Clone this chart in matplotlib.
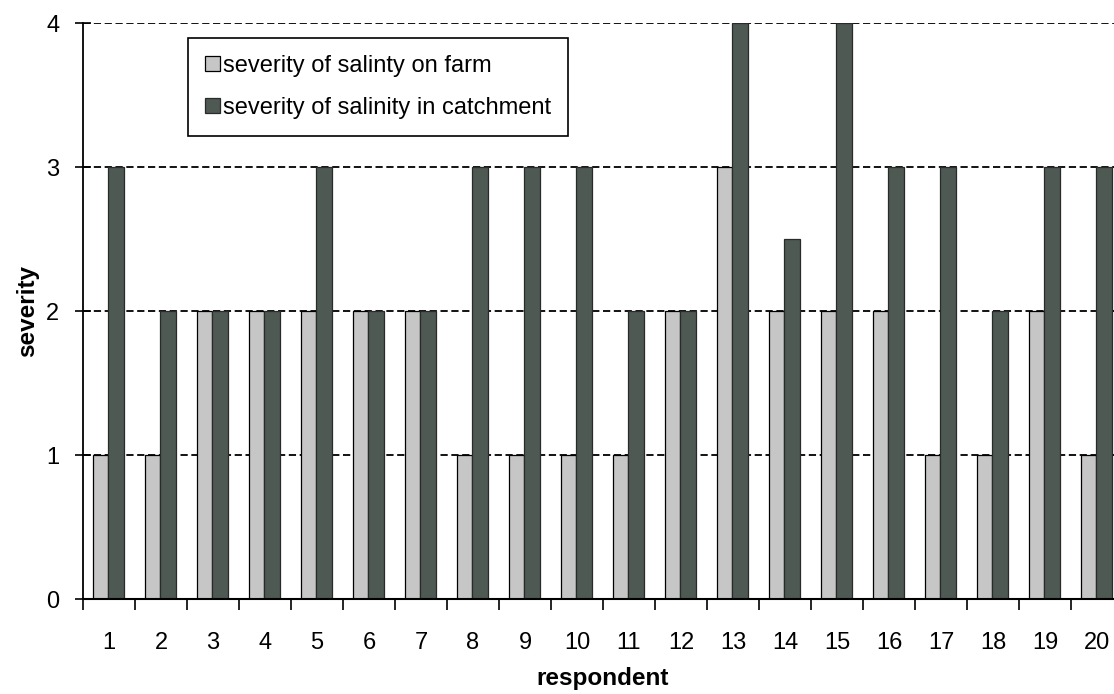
import matplotlib
matplotlib.use("Agg")
import matplotlib.pyplot as plt
import numpy as np

plt.rcParams['font.family'] = ['Liberation Sans', 'DejaVu Sans']

respondents = [str(i) for i in range(1, 21)]
farm = [1, 1, 2, 2, 2, 2, 2, 1, 1, 1, 1, 2, 3, 2, 2, 2, 1, 1, 2, 1]
catchment = [3, 2, 2, 2, 3, 2, 2, 3, 3, 3, 2, 2, 4, 2.5, 4, 3, 3, 2, 3, 3]
series_labels = ["severity of salinty on farm", "severity of salinity in catchment"]
y_ticks = [0, 1, 2, 3, 4]

farm_color = "#c6c6c6"
catch_color = "#4e5954"

fig = plt.figure(figsize=(11.14, 6.94), dpi=100)
ax = fig.add_axes([83 / 1114, 95 / 694, 1040 / 1114, 576 / 694])

x = np.arange(1, len(respondents) + 1)
w = 0.30
ax.bar(x - 0.165, farm, width=w, color=farm_color, edgecolor="black",
       linewidth=0.9, label=series_labels[0], zorder=3)
ax.bar(x + 0.135, catchment, width=w, color=catch_color, edgecolor="#2a2a2a",
       linewidth=0.9, label=series_labels[1], zorder=3)

ax.set_xlim(0.5, len(respondents) + 0.5)
ax.set_ylim(0, 4)

# horizontal dashed gridlines
for yv in y_ticks[1:]:
    ax.axhline(yv, color="black", linestyle=(0, (4, 2)), linewidth=1.3, zorder=1)

# boundaries as tick marks, labels at category centres
ax.set_xticks(np.arange(0.5, len(respondents) + 0.5, 1.0))
ax.set_xticklabels([])
ax.set_xticks(x, minor=True)
ax.set_xticklabels(respondents, minor=True)
ax.tick_params(axis="x", which="major", direction="out", length=8, width=1.2)
ax.tick_params(axis="x", which="minor", length=0, pad=24, labelsize=17)

ax.set_yticks(y_ticks)
ax.set_yticklabels([str(v) for v in y_ticks])
ax.tick_params(axis="y", direction="inout", length=12, width=1.2, pad=11, labelsize=17)

for s in ["top", "right"]:
    ax.spines[s].set_visible(False)
ax.spines["left"].set_linewidth(1.3)
ax.spines["bottom"].set_linewidth(1.5)
ax.spines["left"].set_zorder(4)
ax.spines["bottom"].set_zorder(4)

ax.set_xlabel("respondent", fontsize=17.5, fontweight="bold", labelpad=9)
ax.set_ylabel("severity", fontsize=17.5, fontweight="bold", labelpad=5)

leg = ax.legend(loc="upper left", bbox_to_anchor=(188 / 1114, 1 - 38 / 694),
                bbox_transform=fig.transFigure, fontsize=17, frameon=True,
                fancybox=False, edgecolor="black", framealpha=1,
                handlelength=0.62, handleheight=0.62, handletextpad=0.15,
                borderpad=0.72, labelspacing=0.85, borderaxespad=0)
leg.get_frame().set_linewidth(1.2)
leg.set_zorder(5)

fig.savefig("out.png", dpi=100)
